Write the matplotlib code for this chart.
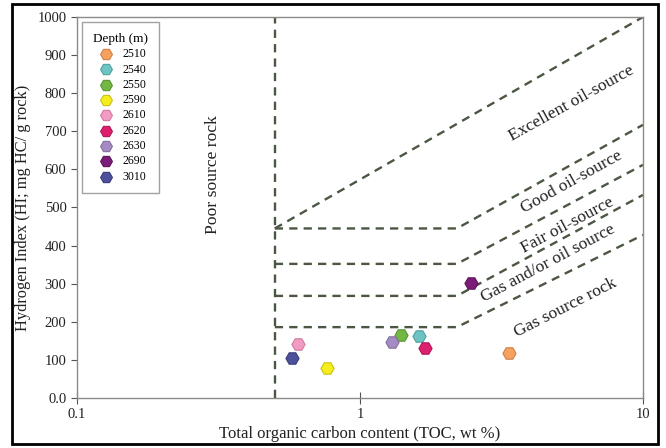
import numpy as np
import matplotlib
matplotlib.use("Agg")
import matplotlib.pyplot as plt
from matplotlib.patches import Rectangle

plt.rcParams['font.family'] = ['Liberation Serif', 'DejaVu Serif']

# samples: depth, TOC (wt %), HI (mg HC/g rock)
depths = ['2510', '2540', '2550', '2590', '2610', '2620', '2630', '2690', '3010']
toc = [3.37, 1.62, 1.40, 0.763, 0.605, 1.70, 1.30, 2.46, 0.574]
hi = [117, 163, 165, 78, 141, 130, 148, 302, 104]
colors = ['#F4A25E', '#6EC4C2', '#74B843', '#F6EE1C', '#F39BC3',
          '#DE1F6C', '#A48BC3', '#7A1C78', '#4D519C']
edges = ['#D0804A', '#4FA3A1', '#5A9432', '#C9C218', '#D07AA0',
         '#B0185A', '#85709F', '#5E155D', '#3A3D7A']

# classification boundaries
poor_toc = 0.5
break_toc = 2.2
excellent_start = 445
excellent_end = 1000
class_start = [445, 352, 268, 186]
class_end = [717, 612, 533, 428]

zone_labels = ['Excellent oil-source', 'Good oil-source', 'Fair oil-source',
               'Gas and/or oil source', 'Gas source rock']
zone_x = [5.61, 5.61, 5.39, 4.61, 5.30]
zone_y = [774, 567, 454, 354, 236]
zone_rot = [29, 29, 28, 28, 27]

fig = plt.figure(figsize=(6.66, 4.48), dpi=100)
ax = fig.add_axes([77/666, 50/448, 566/666, 381/448])

line_kw = dict(color='#4B5643', lw=1.7, linestyle=(0, (3.5, 2.6)))
ax.plot([poor_toc, poor_toc], [0, 1000], **line_kw)
ax.plot([poor_toc, 10], [excellent_start, excellent_end], **line_kw)
for y0, y1 in zip(class_start, class_end):
    ax.plot([poor_toc, break_toc, 10], [y0, y0, y1], **line_kw)

for lab, x, y, r in zip(zone_labels, zone_x, zone_y, zone_rot):
    ax.text(x, y, lab, rotation=r, rotation_mode='anchor', ha='center',
            va='center', fontsize=12.6, color='#222222')
ax.text(0.303, 585, 'Poor source rock', rotation=90, ha='center', va='center',
        fontsize=12.6, color='#222222')

for d, x, y, c, e in zip(depths, toc, hi, colors, edges):
    ax.scatter(x, y, s=90, marker='H', color=c, edgecolors=e,
               linewidths=0.8, label=d, zorder=3)

ax.set_xscale('log')
ax.set_xlim(0.1, 10)
ax.set_ylim(0, 1000)
ax.set_xticks([0.1, 1, 10])
ax.set_xticklabels(['0.1', '1', '10'])
ax.xaxis.set_minor_locator(matplotlib.ticker.NullLocator())
ax.set_yticks(np.arange(0, 1001, 100))
ax.set_yticklabels(['0.0'] + [str(v) for v in range(100, 1001, 100)])
ax.tick_params(axis='x', direction='inout', length=8, width=0.8,
               colors='#555555', labelcolor='#222222', labelsize=10.5)
ax.tick_params(axis='y', direction='out', length=4, width=0.8,
               colors='#555555', labelcolor='#222222', labelsize=10.5)
for s in ax.spines.values():
    s.set_color('#8A8A8A')
    s.set_linewidth(1.0)

ax.set_xlabel('Total organic carbon content (TOC, wt %)', fontsize=12,
              color='#222222', labelpad=3)
ax.set_ylabel('Hydrogen Index (HI; mg HC/ g rock)', fontsize=11.8,
              color='#222222', labelpad=5)

leg = ax.legend(title='Depth (m)', loc='upper left', fontsize=8.5,
                title_fontsize=9.5, frameon=True, fancybox=False,
                edgecolor='#8A8A8A', borderpad=0.9, labelspacing=0.28,
                handletextpad=0.4, borderaxespad=0.45, markerscale=0.9)
leg.get_frame().set_linewidth(1.0)

# black frame round the whole figure
fig.patches.append(Rectangle((12/666, 4/448), 646/666, 440/448,
                             transform=fig.transFigure, fill=False,
                             edgecolor='black', linewidth=2))

fig.savefig('out.png', dpi=100)
